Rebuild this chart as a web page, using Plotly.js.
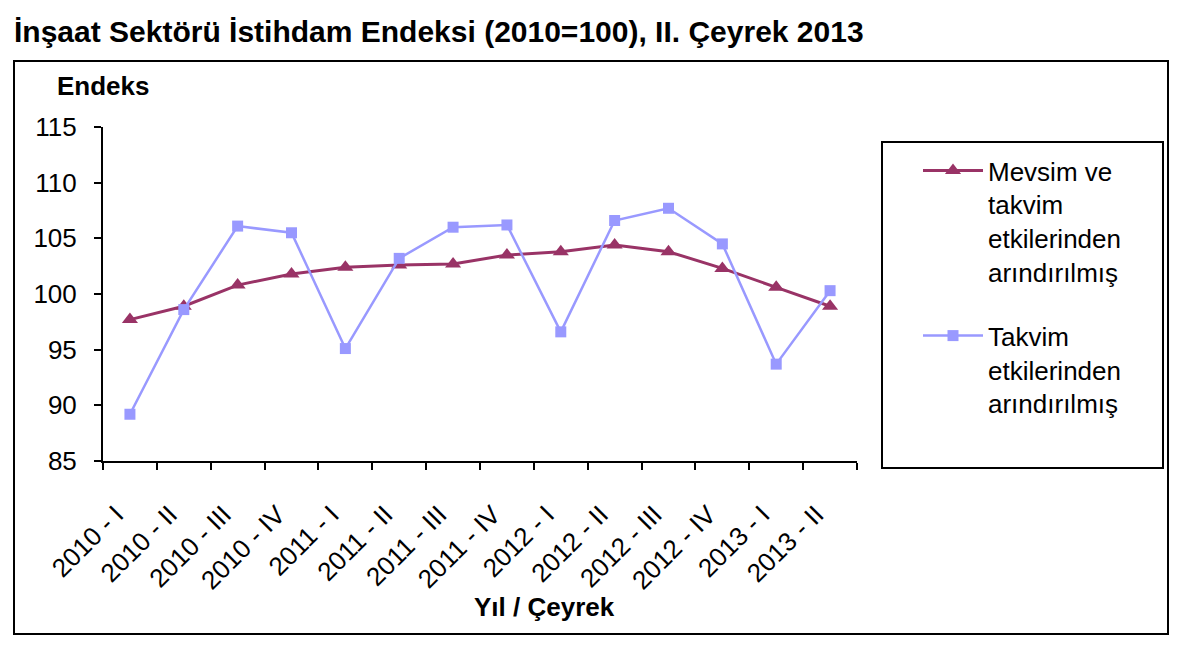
<!DOCTYPE html>
<html>
<head>
<meta charset="utf-8">
<script src="https://cdn.plot.ly/plotly-3.0.1.min.js"></script>
<style>html,body{margin:0;padding:0;background:#fff;}#chart{width:1200px;height:665px;}</style>
</head>
<body>
<div id="chart"></div>
<script>
var categories = ["2010 - I","2010 - II","2010 - III","2010 - IV","2011 - I","2011 - II","2011 - III","2011 - IV","2012 - I","2012 - II","2012 - III","2012 - IV","2013 - I","2013 - II"];
var seasonalAdj = [97.7, 98.9, 100.8, 101.8, 102.4, 102.6, 102.7, 103.5, 103.8, 104.4, 103.8, 102.3, 100.6, 98.9];
var calendarAdj = [89.2, 98.6, 106.1, 105.5, 95.1, 103.2, 106.0, 106.2, 96.6, 106.6, 107.7, 104.5, 93.7, 100.3];
var seriesNames = ["Mevsim ve<br>takvim<br>etkilerinden<br>arındırılmış", "Takvim<br>etkilerinden<br>arındırılmış"];
var yTicks = [85, 90, 95, 100, 105, 110, 115];

var FONT = "Liberation Sans, Arial, sans-serif";

var traces = [
  {
    x: categories, y: seasonalAdj, name: seriesNames[0], type: "scatter", mode: "lines+markers",
    line: {color: "#993366", width: 3},
    marker: {symbol: "triangle-up", size: 14, color: "#993366"},
    legendgroup: "a"
  },
  {
    x: categories, y: calendarAdj, name: seriesNames[1], type: "scatter", mode: "lines+markers",
    line: {color: "#9999FF", width: 2.5},
    marker: {symbol: "square", size: 11, color: "#9999FF"},
    legendgroup: "b"
  }
];

var L = 103, R = 857, T = 127, B = 461;
function px(x){ return (x - L) / (R - L); }
function py(y){ return (B - y) / (B - T); }

var layout = {
  width: 1200, height: 665,
  margin: {l: L, r: 1200 - R, t: T, b: 665 - B, pad: 0},
  paper_bgcolor: "#fff", plot_bgcolor: "#fff",
  font: {family: FONT, size: 26, color: "#000"},
  title: {
    text: "<b>İnşaat Sektörü İstihdam Endeksi (2010=100), II. Çeyrek 2013</b>",
    font: {family: FONT, size: 30, color: "#000"},
    xref: "container", yref: "container", x: 14/1200, xanchor: "left", y: 1 - 31/665, yanchor: "middle"
  },
  showlegend: true,
  legend: {
    x: px(918), y: py(147), xanchor: "left", yanchor: "top",
    bgcolor: "rgba(0,0,0,0)", borderwidth: 0,
    font: {family: FONT, size: 26, color: "#000"},
    valign: "top", tracegroupgap: 27, itemwidth: 60, traceorder: "grouped"
  },
  xaxis: {
    type: "category", range: [-0.5, 13.5], fixedrange: true,
    tickson: "boundaries", ticks: "outside", ticklen: 7, tickwidth: 2, tickcolor: "#000",
    showline: true, linecolor: "#000", linewidth: 2, showgrid: false, zeroline: false,
    tickangle: -45, tickfont: {family: FONT, size: 26, color: "#000"},
    ticklabelstandoff: 26, ticklabelshift: -14,
    automargin: false
  },
  yaxis: {
    range: [85, 115], tickvals: yTicks, ticktext: yTicks.map(String), fixedrange: true,
    ticks: "outside", ticklen: 7, tickwidth: 2, tickcolor: "#000",
    showline: true, linecolor: "#000", linewidth: 2, showgrid: false, zeroline: false,
    tickfont: {family: FONT, size: 26, color: "#000"}, ticklabelstandoff: 12,
    automargin: false
  },
  annotations: [
    {text: "<b>Endeks</b>", xref: "paper", yref: "paper", x: px(55), y: py(86), xanchor: "left", yanchor: "middle",
     showarrow: false, font: {family: FONT, size: 26, color: "#000"}},
    {text: "<b>Yıl / Çeyrek</b>", xref: "paper", yref: "paper", x: px(544), y: py(607), xanchor: "center", yanchor: "middle",
     showarrow: false, font: {family: FONT, size: 26, color: "#000"}}
  ],
  shapes: [
    {type: "rect", xref: "paper", yref: "paper", x0: px(14), x1: px(1168), y0: py(634), y1: py(61),
     line: {color: "#000", width: 2}, fillcolor: "rgba(0,0,0,0)", layer: "below"},
    {type: "rect", xref: "paper", yref: "paper", x0: px(882), x1: px(1163), y0: py(468), y1: py(142),
     line: {color: "#000", width: 2}, fillcolor: "rgba(0,0,0,0)", layer: "below"}
  ]
};

Plotly.newPlot("chart", traces, layout, {displayModeBar: false, staticPlot: true});
</script>
</body>
</html>
